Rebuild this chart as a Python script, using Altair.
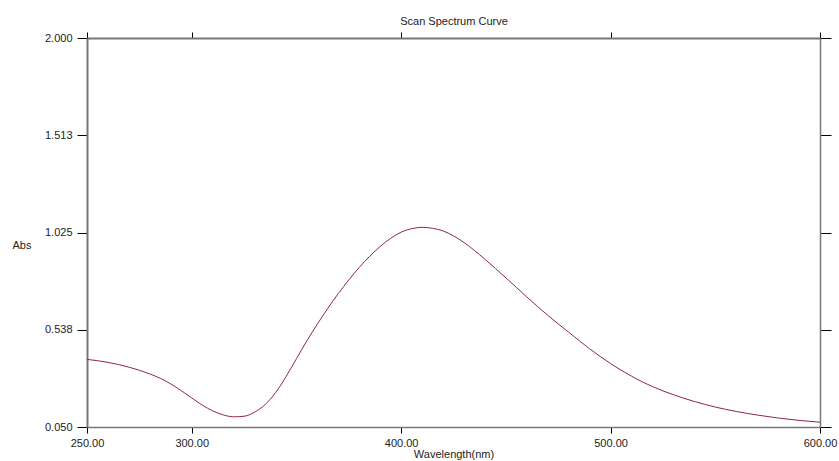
import altair as alt
import pandas as pd

wavelength = [250, 260, 270, 280, 285, 290, 295, 300, 305, 310, 315, 320, 325, 330, 335,
              340, 345, 350, 355, 360, 365, 370, 375, 380, 385, 390, 395, 400, 405, 410,
              415, 420, 425, 430, 435, 440, 445, 450, 455, 460, 465, 470, 475, 480, 485,
              490, 495, 500, 505, 510, 515, 520, 525, 530, 535, 540, 550, 560, 570, 580,
              590, 600]
absorbance = [0.389, 0.374, 0.350, 0.316, 0.294, 0.266, 0.232, 0.196, 0.160, 0.131, 0.111,
              0.101, 0.104, 0.124, 0.162, 0.222, 0.302, 0.392, 0.482, 0.566, 0.645, 0.719,
              0.787, 0.850, 0.906, 0.955, 0.996, 1.027, 1.044, 1.051, 1.046, 1.033, 1.008,
              0.975, 0.935, 0.891, 0.845, 0.798, 0.750, 0.702, 0.655, 0.610, 0.567, 0.525,
              0.483, 0.442, 0.404, 0.368, 0.335, 0.305, 0.277, 0.253, 0.231, 0.212, 0.194,
              0.178, 0.150, 0.128, 0.110, 0.095, 0.083, 0.074]

x_ticks = [250, 300, 400, 500, 600]
y_ticks = [0.050, 0.538, 1.025, 1.513, 2.000]

df = pd.DataFrame({"wl": wavelength, "abs": absorbance})

FONT = "Liberation Sans"
TXT = "#222222"
DOM = "#777777"

base = alt.Chart(df)

line = base.mark_line(color="#8e2458", strokeWidth=1, interpolate="monotone").encode(
    x=alt.X("wl:Q", scale=alt.Scale(domain=[250, 600], nice=False, zero=False),
            axis=alt.Axis(orient="bottom", values=x_ticks, format=".2f", grid=False,
                          tickSize=6, tickColor="#000000", domainColor=DOM, domainWidth=1.5,
                          labelFont=FONT, labelFontSize=11, labelColor=TXT, labelPadding=4,
                          labelFlush=False, labelOverlap=False,
                          title="Wavelength(nm)", titleFont=FONT, titleFontSize=11,
                          titleFontWeight="normal", titleColor=TXT, titleY=30,
                          titleBaseline="alphabetic")),
    y=alt.Y("abs:Q", scale=alt.Scale(domain=[0.05, 2.0], nice=False, zero=False),
            axis=alt.Axis(orient="left", values=y_ticks, format=".3f", grid=False,
                          tickSize=10, tickColor="#000000", domainColor=DOM, domainWidth=2,
                          labelFont=FONT, labelFontSize=11, labelColor=TXT, labelPadding=5,
                          labelFlush=False, labelOverlap=False,
                          title="Abs", titleFont=FONT, titleFontSize=11,
                          titleFontWeight="normal", titleColor=TXT, titleAngle=0,
                          titleX=-75, titleY=207, titleAlign="left",
                          titleBaseline="middle")),
)

top = base.mark_line(opacity=0).encode(
    x=alt.X("wl:Q", scale=alt.Scale(domain=[250, 600], nice=False, zero=False),
            axis=alt.Axis(orient="top", values=x_ticks, labels=False, grid=False,
                          tickSize=6, tickColor="#000000", domainColor=DOM, domainWidth=2,
                          title="Scan Spectrum Curve", titleFont=FONT, titleFontSize=11,
                          titleFontWeight="normal", titleColor=TXT, titleY=-14,
                          titleBaseline="alphabetic")),
    y=alt.Y("abs:Q", scale=alt.Scale(domain=[0.05, 2.0], nice=False, zero=False),
            axis=alt.Axis(orient="right", values=y_ticks, labels=False, grid=False,
                          tickSize=11, tickColor="#000000", domainColor=DOM, domainWidth=1.5,
                          title=None)),
)

chart = alt.layer(line, top).resolve_axis(x="independent", y="independent").properties(
    width=733, height=389,
    autosize=alt.AutoSizeParams(type="none"),
    padding={"left": 87, "top": 38, "right": 19, "bottom": 34},
    background="white",
).configure_view(stroke=None)

chart.save("out.html", embed_options={"renderer": "svg", "actions": False})
